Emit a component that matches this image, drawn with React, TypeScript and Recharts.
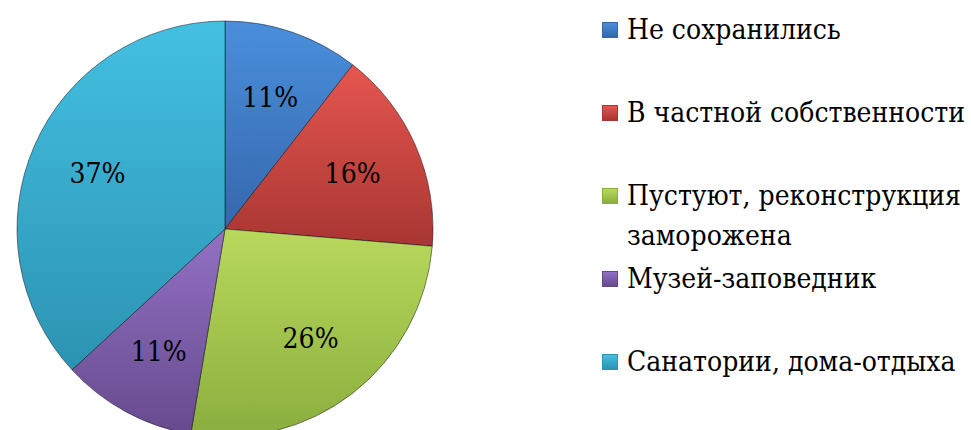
import React from 'react';
import { PieChart, Pie, Cell, Legend } from 'recharts';

// counts of objects by status
const categories = [
    'Не сохранились',
    'В частной собственности',
    'Пустуют, реконструкция заморожена',
    'Музей-заповедник',
    'Санатории, дома-отдыха',
];
const counts = [2, 3, 5, 2, 7];

const lightColors = ['#4a8fdc', '#e65650', '#b8d95c', '#9271c4', '#43c0e2'];
const darkColors = ['#3567ac', '#a83632', '#8aae3e', '#674a8e', '#2c93b2'];

const chartData = categories.map((name, i) => ({ name, value: counts[i] }));

const RADIAN = Math.PI / 180;
const FONT = "'DejaVu Serif Condensed', 'DejaVu Serif', serif";

const renderLabel = (props: any) => {
    const { cx, cy, midAngle, outerRadius, percent } = props;
    const r = outerRadius * 0.67;
    const x = cx + r * Math.cos(-midAngle * RADIAN);
    const y = cy + r * Math.sin(-midAngle * RADIAN);
    return (
        <text x={x} y={y} fill="#000" fontSize={28} style={{ fontFamily: FONT }}
            textAnchor="middle" dominantBaseline="central">
            {`${Math.round(percent * 100)}%`}
        </text>
    );
};

// legend drawn in data order (recharts would sort it by name)
const renderLegend = () => (
    <div style={{ fontFamily: FONT, fontSize: 28, lineHeight: '40px', color: '#000' }}>
        {categories.map((name, i) => (
            <div key={name} style={{ display: 'flex', alignItems: 'flex-start', height: 83 }}>
                <span style={{
                    width: 14, height: 14, marginTop: 12, marginRight: 9, flexShrink: 0,
                    background: `linear-gradient(${lightColors[i]}, ${darkColors[i]})`,
                    border: `1px solid ${darkColors[i]}`,
                }} />
                <span style={{ width: 345 }}>{name}</span>
            </div>
        ))}
    </div>
);

export default function App() {
    return (
        <div style={{ position: 'absolute', left: 0, top: 0 }}>
            <PieChart width={971} height={430}>
                <defs>
                    {lightColors.map((c, i) => (
                        <linearGradient key={i} id={`grad${i}`} x1="0" y1="0" x2="0" y2="1">
                            <stop offset="0%" stopColor={c} />
                            <stop offset="100%" stopColor={darkColors[i]} />
                        </linearGradient>
                    ))}
                </defs>
                <Pie
                    data={chartData}
                    dataKey="value"
                    nameKey="name"
                    cx={220}
                    cy={224}
                    outerRadius={208}
                    startAngle={90}
                    endAngle={-270}
                    label={renderLabel}
                    labelLine={false}
                    stroke="rgba(0,0,0,0.45)"
                    strokeWidth={1}
                    isAnimationActive={false}
                >
                    {chartData.map((_, i) => (
                        <Cell key={i} fill={`url(#grad${i})`} />
                    ))}
                </Pie>
                <Legend
                    content={renderLegend}
                    wrapperStyle={{ left: 602, top: 10, width: 369 }}
                />
            </PieChart>
        </div>
    );
}
